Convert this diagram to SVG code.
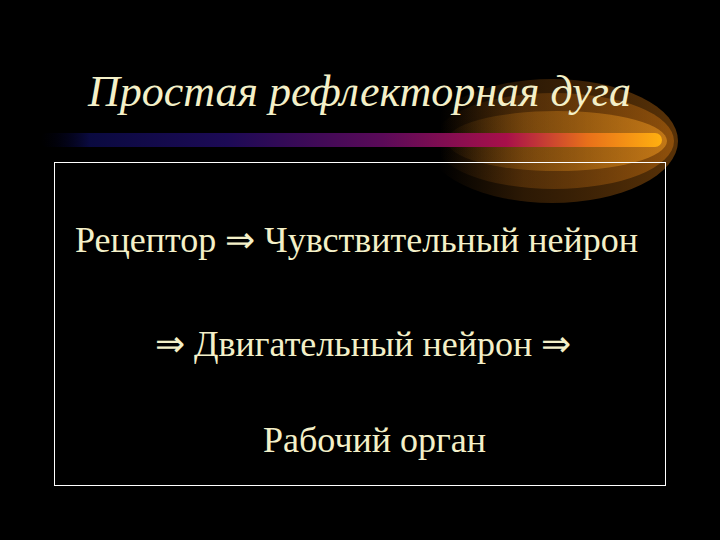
<svg xmlns="http://www.w3.org/2000/svg" width="720" height="540" viewBox="0 0 720 540">
<defs>
<style>
.title{font-family:"Liberation Serif","Times New Roman",serif;font-style:italic;font-size:44px;fill:#f4f0c8;}
.body{font-family:"Liberation Serif","Times New Roman",serif;font-size:36px;fill:#f4f0c8;}
.arr{font-family:"DejaVu Sans ExtraLight","DejaVu Sans",sans-serif;font-weight:200;}
</style>
<linearGradient id="bar" x1="40" y1="0" x2="662" y2="0" gradientUnits="userSpaceOnUse">
<stop offset="0" stop-color="#000010" stop-opacity="0"/>
<stop offset="0.08" stop-color="#0a0a40"/>
<stop offset="0.3" stop-color="#1c0a55"/>
<stop offset="0.55" stop-color="#5a0a58"/>
<stop offset="0.75" stop-color="#a8104a"/>
<stop offset="0.88" stop-color="#e8701a"/>
<stop offset="1" stop-color="#ffb010"/>
</linearGradient>
<linearGradient id="glow" x1="440" y1="0" x2="680" y2="0" gradientUnits="userSpaceOnUse">
<stop offset="0" stop-color="#a05a10" stop-opacity="0"/>
<stop offset="0.35" stop-color="#a05a10" stop-opacity="0.55"/>
<stop offset="1" stop-color="#c87010" stop-opacity="0.9"/>
</linearGradient>
<linearGradient id="glow2" x1="440" y1="0" x2="680" y2="0" gradientUnits="userSpaceOnUse">
<stop offset="0" stop-color="#d08018" stop-opacity="0"/>
<stop offset="0.4" stop-color="#d08018" stop-opacity="0.5"/>
<stop offset="1" stop-color="#f09a20" stop-opacity="0.9"/>
</linearGradient>
</defs>
<rect width="720" height="540" fill="#000000"/>
<g id="swoosh">
<ellipse cx="552" cy="141" rx="126" ry="62" fill="url(#glow)" opacity="0.5"/>
<ellipse cx="554" cy="141" rx="120" ry="48" fill="url(#glow)" opacity="0.55"/>
<ellipse cx="557" cy="141" rx="110" ry="30" fill="url(#glow2)" opacity="0.65"/>
<rect x="40" y="133" width="622" height="14" rx="7" fill="url(#bar)"/>
</g>
<text class="title" x="88" y="106">Простая рефлекторная дуга</text>
<rect id="frame" x="54.5" y="162.5" width="611" height="323" fill="none" stroke="#ffffff" stroke-width="1"/>
<g id="line1"><text class="body" x="75" y="252">Рецептор <tspan class="arr">⇒</tspan> Чувствительный нейрон</text></g>
<g id="line2"><text class="body" x="155" y="356"><tspan class="arr">⇒</tspan> Двигательный нейрон  <tspan class="arr">⇒</tspan></text></g>
<g id="line3"><text class="body" x="263" y="452">Рабочий орган</text></g>
</svg>
